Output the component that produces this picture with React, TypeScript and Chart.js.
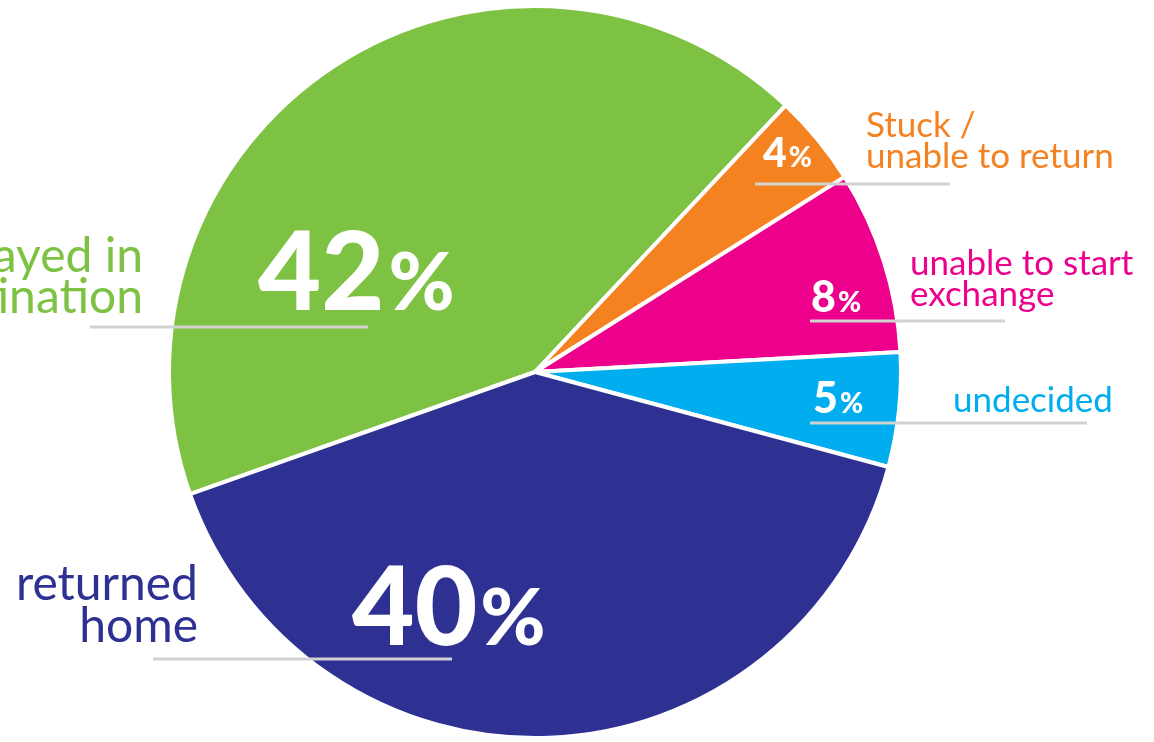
import React, { useEffect, useRef } from "react";
import { Chart, registerables } from "chart.js";

Chart.register(...registerables);

const categories = [
  "stayed in destination",
  "Stuck / unable to return",
  "unable to start exchange",
  "undecided",
  "returned home",
];
const values = [42, 4, 8, 5, 40];
const labelLines = [
  ["stayed in", "destination"],
  ["Stuck /", "unable to return"],
  ["unable to start", "exchange"],
  ["undecided"],
  ["returned", "home"],
];
const colors = ["#7DC243", "#F58221", "#EC008C", "#00AEEF", "#2E3192"];

// annotation layout (pixel positions of labels, not data)
const layout = [
  { num: { x: 258, y: 310, size: 109, pct: 80, gap: 4 }, text: { x: 143, ys: [272, 313], align: "right", size: 48 }, line: { x1: 90, x2: 368, y: 327 } },
  { num: { x: 763, y: 167, size: 41, pct: 28, gap: 2 }, text: { x: 866, ys: [137, 168], align: "left", size: 35 }, line: { x1: 755, x2: 950, y: 184 } },
  { num: { x: 811, y: 312, size: 43, pct: 28, gap: 2 }, text: { x: 910, ys: [275, 306], align: "left", size: 35 }, line: { x1: 810, x2: 1005, y: 321 } },
  { num: { x: 813, y: 413, size: 43, pct: 28, gap: 2 }, text: { x: 953, ys: [412], align: "left", size: 35 }, line: { x1: 810, x2: 1087, y: 423 } },
  { num: { x: 352, y: 645, size: 108, pct: 79, gap: 3 }, text: { x: 198, ys: [600, 642], align: "right", size: 48 }, line: { x1: 153, x2: 452, y: 659 } },
];

const labelPlugin = {
  id: "labelPlugin",
  afterDraw(chart: any) {
    const ctx = chart.ctx;
    ctx.save();
    layout.forEach((a, i) => {
      ctx.strokeStyle = "#d2d2d2";
      ctx.lineWidth = 3;
      ctx.beginPath();
      ctx.moveTo(a.line.x1, a.line.y);
      ctx.lineTo(a.line.x2, a.line.y);
      ctx.stroke();

      ctx.fillStyle = "#ffffff";
      ctx.textBaseline = "alphabetic";
      ctx.textAlign = "left";
      ctx.font = `900 ${a.num.size}px Lato`;
      const s = String(values[i]);
      ctx.fillText(s, a.num.x, a.num.y);
      const w = ctx.measureText(s).width;
      ctx.font = `900 ${a.num.pct}px Lato`;
      ctx.fillText("%", a.num.x + w + a.num.gap, a.num.y);

      ctx.fillStyle = colors[i];
      ctx.font = `400 ${a.text.size}px Lato`;
      ctx.textAlign = a.text.align;
      labelLines[i].forEach((t, j) => ctx.fillText(t, a.text.x, a.text.ys[j]));
    });
    ctx.restore();
  },
};

export default function App() {
  const ref = useRef<HTMLCanvasElement>(null);
  useEffect(() => {
    document.body.style.margin = "0";
    const chart = new Chart(ref.current!, {
      type: "pie",
      data: {
        labels: categories,
        datasets: [
          {
            data: values,
            backgroundColor: colors,
            borderColor: "#ffffff",
            borderWidth: 4,
            clip: false,
          } as any,
        ],
      },
      options: {
        responsive: false,
        animation: false,
        rotation: 250.5,
        radius: 366,
        layout: { padding: { left: 0, right: 84, top: 2, bottom: 0 } },
        plugins: { legend: { display: false }, tooltip: { enabled: false } },
      } as any,
      plugins: [labelPlugin],
    });
    return () => chart.destroy();
  }, []);
  return (
    <div style={{ position: "fixed", left: 0, top: 0, width: 1154, height: 742, background: "#fff" }}>
      <canvas ref={ref} width={1154} height={742} />
    </div>
  );
}
